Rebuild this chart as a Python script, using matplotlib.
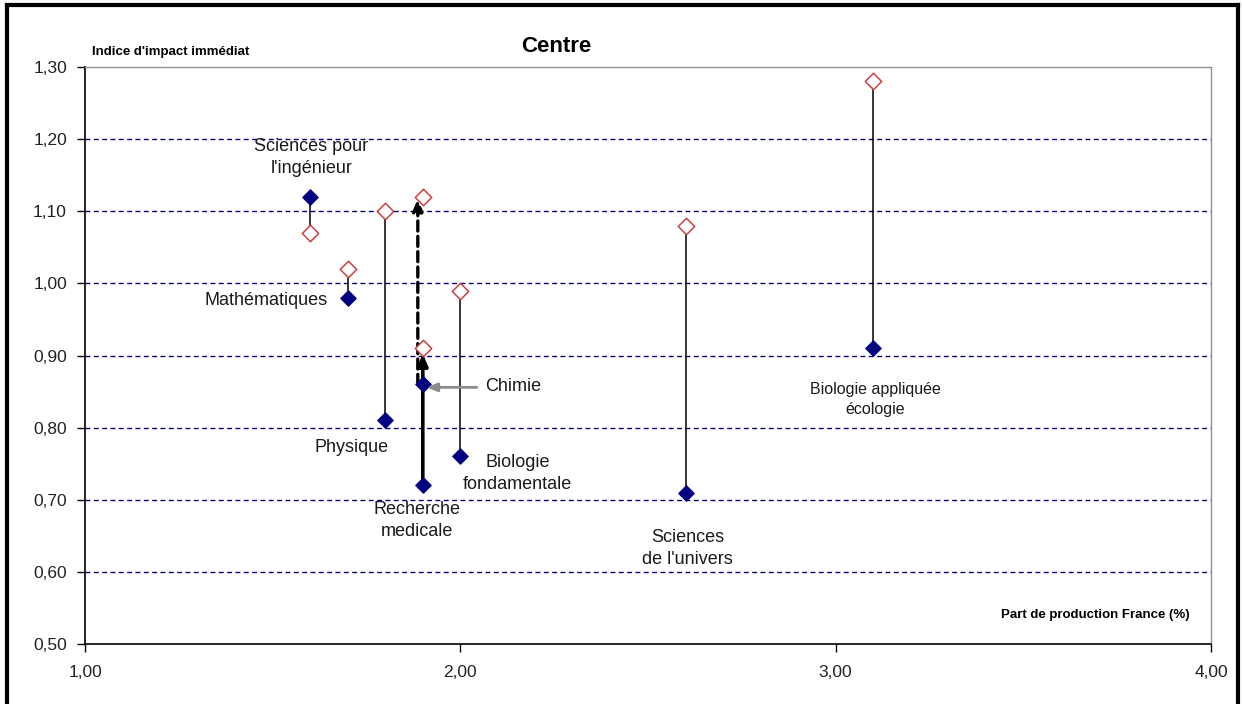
import matplotlib
matplotlib.use("Agg")
import matplotlib.pyplot as plt
from matplotlib.lines import Line2D
from matplotlib.ticker import FuncFormatter, MultipleLocator
import matplotlib.transforms as mtransforms

plt.rcParams["font.family"] = ["Liberation Sans", "DejaVu Sans"]

# Domains, share of French production (%) and immediate impact index for two periods
domains = ["Mathématiques", "Physique", "Sciences de l'univers", "Chimie",
           "Biologie fondamentale", "Recherche médicale",
           "Biologie appliquée écologie", "Sciences pour l'ingénieur"]
share_fr = [1.70, 1.80, 2.60, 1.90, 2.00, 1.90, 3.10, 1.60]
impact_start = [0.98, 0.81, 0.71, 0.86, 0.76, 0.72, 0.91, 1.12]
impact_end = [1.02, 1.10, 1.08, 1.12, 0.99, 0.91, 1.28, 1.07]

labels = {
    "Mathématiques": "Mathématiques",
    "Physique": "Physique",
    "Sciences de l'univers": "Sciences\nde l'univers",
    "Chimie": "Chimie",
    "Biologie fondamentale": "Biologie\nfondamentale",
    "Recherche médicale": "Recherche\nmedicale",
    "Biologie appliquée écologie": "Biologie appliquée\nécologie",
    "Sciences pour l'ingénieur": "Sciences pour\nl'ingénieur",
}

x_ticks = [1.00, 2.00, 3.00, 4.00]
y_ticks = [0.50, 0.60, 0.70, 0.80, 0.90, 1.00, 1.10, 1.20, 1.30]

NAVY = "#000080"
RED = "#cc4040"

fig = plt.figure(figsize=(12.42, 7.04), dpi=100)
fig.patch.set_facecolor("white")
ax = fig.add_axes([85 / 1242, 60 / 704, 1126 / 1242, 577 / 704])

ax.set_xlim(x_ticks[0], x_ticks[-1])
ax.set_ylim(y_ticks[0], y_ticks[-1])
ax.xaxis.set_major_locator(MultipleLocator(1.0))
ax.yaxis.set_major_locator(MultipleLocator(0.1))
comma = FuncFormatter(lambda v, p: f"{v:.2f}".replace(".", ","))
ax.xaxis.set_major_formatter(comma)
ax.yaxis.set_major_formatter(comma)
ax.tick_params(axis="both", direction="out", length=6, width=1, colors="black",
               labelsize=12.5, labelcolor="#222222")
ax.tick_params(axis="y", pad=7)
ax.tick_params(axis="x", pad=9)

for sp in ("top", "right"):
    ax.spines[sp].set_color("#909090")
    ax.spines[sp].set_linewidth(1)
for sp in ("left", "bottom"):
    ax.spines[sp].set_color("black")
    ax.spines[sp].set_linewidth(1.2)

for yv in y_ticks[1:-1]:
    ax.axhline(yv, color=NAVY, lw=1, ls=(0, (3.5, 2.5)), zorder=1)

arrow_domains = {"Chimie", "Recherche médicale"}

# Vertical connectors between the two periods
for d, x, y0, y1 in zip(domains, share_fr, impact_start, impact_end):
    if d in arrow_domains:
        continue
    ax.plot([x, x], [y0, y1], color="black", lw=1.1, zorder=2)

# Highlighted evolutions drawn as arrows
i_rm = domains.index("Recherche médicale")
ax.annotate("", xy=(share_fr[i_rm], impact_end[i_rm]),
            xytext=(share_fr[i_rm], impact_start[i_rm]),
            arrowprops=dict(arrowstyle="-|>,head_length=0.7,head_width=0.3",
                            color="black", lw=2.6, shrinkA=0, shrinkB=4),
            zorder=3)

i_ch = domains.index("Chimie")
shift = mtransforms.offset_copy(ax.transData, fig=fig, x=-5, y=0, units="dots")
ax.annotate("", xy=(share_fr[i_ch], impact_end[i_ch]), xycoords=shift,
            xytext=(share_fr[i_ch], impact_start[i_ch]), textcoords=shift,
            arrowprops=dict(arrowstyle="-|>,head_length=0.7,head_width=0.3",
                            color="black", lw=2.4, ls=(0, (3, 1.6)),
                            shrinkA=0, shrinkB=1.5),
            zorder=3)

ax.scatter(share_fr, impact_start, marker="D", s=60, color=NAVY,
           edgecolors=NAVY, zorder=5)
ax.scatter(share_fr, impact_end, marker="D", s=70, facecolors="white",
           edgecolors=RED, linewidths=1.1, zorder=5)

# Domain labels, offset in pixels from the first-period marker
label_style = {
    "Sciences pour l'ingénieur": ((1, 39), "center", 13),
    "Mathématiques": ((-20, -3), "right", 13),
    "Physique": ((-34, -27), "center", 13),
    "Recherche médicale": ((-6, -35), "center", 13),
    "Biologie fondamentale": ((57, -17), "center", 13),
    "Sciences de l'univers": ((2, -56), "center", 13),
    "Biologie appliquée écologie": ((2, -51), "center", 11.5),
}
for d, x, y in zip(domains, share_fr, impact_start):
    if d in label_style:
        off, ha, fs = label_style[d]
        ax.annotate(labels[d], xy=(x, y), xytext=off, textcoords="offset pixels",
                    ha=ha, va="center", multialignment="center",
                    fontsize=fs, color="#1a1a1a", linespacing=1.38, zorder=6)

# Chimie: label to the right with a grey pointer to its marker
ax.annotate(labels["Chimie"], xy=(share_fr[i_ch], impact_start[i_ch]),
            xytext=(62, -2), textcoords="offset pixels",
            ha="left", va="center", fontsize=13, color="#1a1a1a", zorder=6)
pointer = mtransforms.offset_copy(ax.transData, fig=fig, x=4, y=-3, units="dots")
ax.annotate("", xy=(share_fr[i_ch], impact_start[i_ch]), xycoords=pointer,
            xytext=(50, 0), textcoords="offset pixels",
            arrowprops=dict(arrowstyle="-|>,head_length=0.6,head_width=0.25",
                            color="#8c8c8c", lw=2, shrinkA=0, shrinkB=0),
            zorder=6)

fig.text(556 / 1242, 1 - 47 / 704, "Centre", ha="center", va="center",
         fontsize=16, fontweight="bold", color="black")
fig.text(92 / 1242, 1 - 52 / 704, "Indice d'impact immédiat", ha="left",
         va="center", fontsize=9.5, fontweight="bold", color="black")
fig.text(1190 / 1242, 1 - 615 / 704, "Part de production France (%)",
         ha="right", va="center", fontsize=9.5, fontweight="bold", color="black")

# Outer frame of the chart area
frame = dict(color="black", lw=3, transform=fig.transFigure, clip_on=False,
             solid_capstyle="projecting")
fig.add_artist(Line2D([7 / 1242, 7 / 1242], [0, 1 - 5 / 704], **frame))
fig.add_artist(Line2D([7 / 1242, 1238 / 1242], [1 - 5 / 704, 1 - 5 / 704], **frame))
fig.add_artist(Line2D([1238 / 1242, 1238 / 1242], [0, 1 - 5 / 704], **frame))

fig.savefig("out.png", dpi=100, facecolor="white")
